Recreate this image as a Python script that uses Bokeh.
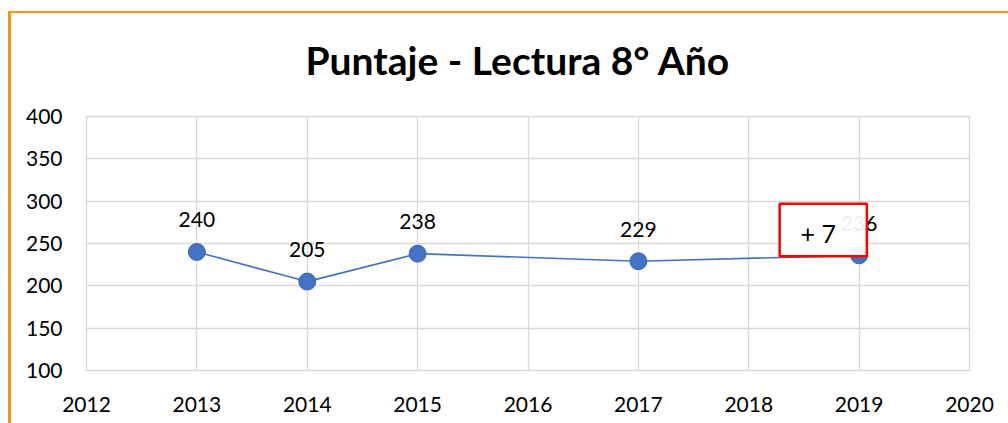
from bokeh.plotting import figure
from bokeh.models import (ColumnDataSource, FixedTicker, BoxAnnotation, Label, Range1d)
from bokeh.core.properties import value
from bokeh.embed import file_html
from bokeh.resources import INLINE

years = [2013, 2014, 2015, 2017, 2019]
scores = [240, 205, 238, 229, 236]
labels = ["240", "205", "238", "229", "236"]
x_ticks = [2012, 2013, 2014, 2015, 2016, 2017, 2018, 2019, 2020]
y_ticks = [100, 150, 200, 250, 300, 350, 400]
title_text = "Puntaje - Lectura 8° Año"
note_text = "+ 7"
note_box = dict(left=2018.28, right=2019.07, bottom=235, top=297)
note_pos = (2018.63, 262)

FONT = "Lato"
BLUE = "#4472C4"
GRID = "#d9d9d9"
ORANGE = "#F7941D"

src = ColumnDataSource(dict(x=years, y=scores, t=labels))

p = figure(width=1008, height=423, output_backend="svg", toolbar_location=None,
           x_range=Range1d(2012, 2020), y_range=Range1d(100, 400),
           min_border_left=86, min_border_right=39, min_border_top=116,
           min_border_bottom=53)

p.title.text = title_text
p.title.align = "left"
p.title.offset = 219
p.title.text_font = FONT
p.title.text_font_style = "bold"
p.title.text_font_size = "39px"
p.title.text_color = "#000000"
p.title.standoff = 68

p.xaxis.ticker = FixedTicker(ticks=x_ticks)
p.yaxis.ticker = FixedTicker(ticks=y_ticks)
for ax in (p.xaxis[0], p.yaxis[0]):
    ax.axis_line_color = None
    ax.major_tick_line_color = None
    ax.minor_tick_line_color = None
    ax.major_label_text_font = FONT
    ax.major_label_text_font_size = "21px"
    ax.major_label_text_color = "#000000"
p.xaxis.major_label_standoff = 20
p.yaxis.major_label_standoff = 18

p.xgrid.grid_line_color = GRID
p.ygrid.grid_line_color = GRID
p.xgrid.grid_line_width = 1.3
p.ygrid.grid_line_width = 1.3
p.outline_line_color = GRID
p.outline_line_width = 1.3
p.background_fill_color = "white"
p.border_fill_color = None

p.line("x", "y", source=src, line_color=BLUE, line_width=1.6)
p.scatter("x", "y", source=src, size=17, fill_color=BLUE, line_color="#3d66b3", line_width=1)
p.text("x", "y", text="t", source=src, text_font=value(FONT), text_font_size="21px",
       text_align="center", text_baseline="middle", y_offset=-32, text_color="#000000")

box = BoxAnnotation(**note_box, fill_color="white", fill_alpha=0.93,
                    line_color="#ff0000", line_alpha=1.0, line_width=2.5, level="overlay")
p.add_layout(box)
p.add_layout(Label(x=note_pos[0], y=note_pos[1], text=note_text, text_font=FONT,
                   text_font_size="25px", text_align="center", text_baseline="middle",
                   text_color="#000000", level="overlay"))

# orange chart-area border (top and left edges) painted behind the transparent canvas
p.styles = {
    "background-color": "white",
    "background-image": f"linear-gradient({ORANGE}, {ORANGE}), linear-gradient({ORANGE}, {ORANGE})",
    "background-position": "8px 11px, 8px 11px",
    "background-size": "100% 2px, 3px 100%",
    "background-repeat": "no-repeat",
}

open("out.html", "w").write(file_html(p, INLINE))
